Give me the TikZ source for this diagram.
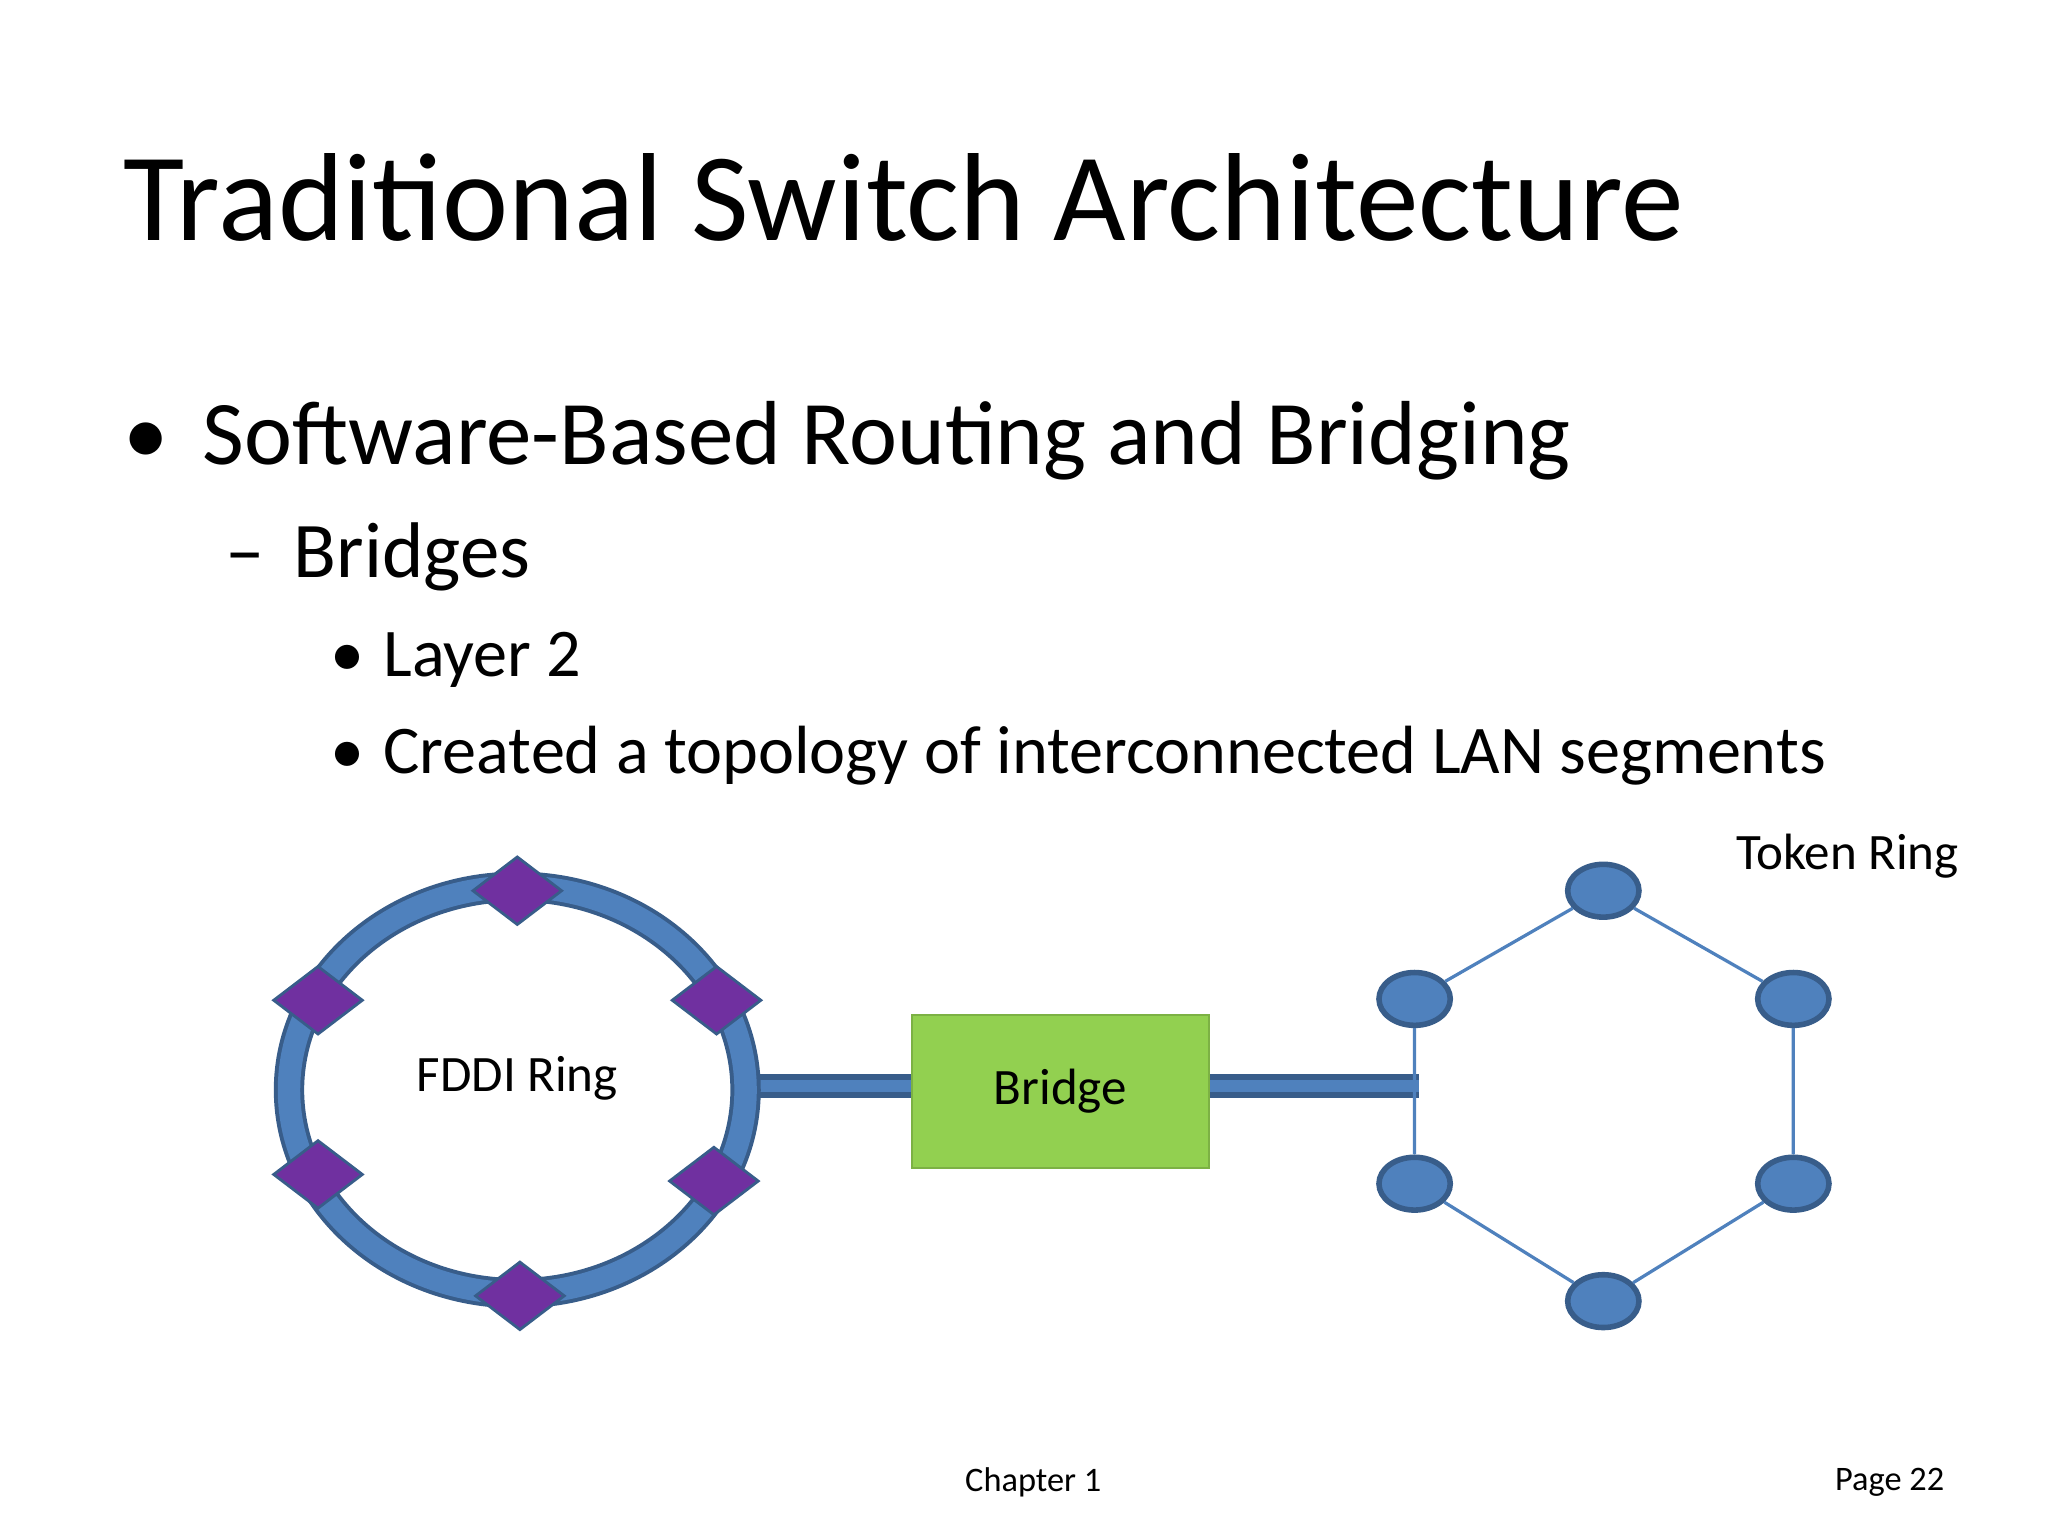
\documentclass[tikz,border=0pt]{standalone}
\usepackage{fontspec}
\setmainfont{Carlito}
\usetikzlibrary{shapes.geometric}
\definecolor{blu}{HTML}{4F81BD}
\definecolor{dblu}{HTML}{385D8A}
\definecolor{purp}{HTML}{7030A0}
\definecolor{grn}{HTML}{92D050}
\begin{document}
\begin{tikzpicture}[x=0.01cm,y=-0.01cm,
 dia/.style={diamond,fill=purp,draw=dblu,line width=0.6pt,minimum width=0.68cm,minimum height=0.52cm,inner sep=0pt},
 tok/.style={ellipse,fill=blu,draw=dblu,line width=1.2pt,minimum width=0.54cm,minimum height=0.4cm,inner sep=0pt},
 txt/.style={anchor=base west,inner sep=0pt}]
\useasboundingbox (0,0) rectangle (1552,1164);
\node[txt,font=\fontsize{27}{32}\selectfont] (title) at (93,182) {Traditional Switch Architecture};
\node[txt,font=\fontsize{19.6}{24}\selectfont] (b1m) at (93,352) {•};
\node[txt,font=\fontsize{19.6}{24}\selectfont] (b1) at (153,352) {Software-Based Routing and Bridging};
\node[txt,font=\fontsize{17}{21}\selectfont] (b2m) at (170,438) {–};
\node[txt,font=\fontsize{17}{21}\selectfont] (b2) at (222,438) {Bridges};
\node[txt,font=\fontsize{14.7}{18}\selectfont] (b3m) at (250,513) {•};
\node[txt,font=\fontsize{14.7}{18}\selectfont] (b3) at (290,513) {Layer 2};
\node[txt,font=\fontsize{14.7}{18}\selectfont] (b4m) at (250,586) {•};
\node[txt,font=\fontsize{14.7}{18}\selectfont] (b4) at (290,586) {Created a topology of interconnected LAN segments};
% connectors
\coordinate (rr) at (572,823);
\coordinate (hl) at (1075,823);
\node[fill=grn,draw=grn!85!black,minimum width=2.25cm,minimum height=1.16cm,font=\fontsize{11}{13}\selectfont] (br) at (803.5,827) {Bridge};
\draw[dblu,line width=5pt] (rr) -- (rr -| br.west);
\draw[blu,line width=2.5pt] (rr) -- (rr -| br.west);
\draw[dblu,line width=5pt] (hl -| br.east) -- (hl);
\draw[blu,line width=2.5pt] (hl -| br.east) -- (hl);
% FDDI ring
\draw[dblu,line width=0.23cm] (392,826) ellipse [x radius=173, y radius=154];
\draw[blu,line width=0.17cm] (392,826) ellipse [x radius=173, y radius=154];
\node[font=\fontsize{11}{13}\selectfont] (fl) at (392,817) {FDDI Ring};
\node[dia] (d1) at (392,675) {};
\node[dia] (d2) at (543,758) {};
\node[dia] (d3) at (241,758) {};
\node[dia] (d4) at (241,890) {};
\node[dia] (d5) at (541,895) {};
\node[dia] (d6) at (394,982) {};
% token ring
\node[tok] (t1) at (1215,675) {};
\node[tok] (t2) at (1359,757) {};
\node[tok] (t3) at (1359,897) {};
\node[tok] (t4) at (1215,986) {};
\node[tok] (t5) at (1072,897) {};
\node[tok] (t6) at (1072,757) {};
\draw[blu,line width=0.7pt] (t1)--(t2)--(t3)--(t4)--(t5)--(t6)--(t1);
\node[font=\fontsize{11}{13}\selectfont] (tl) at (1400,649) {Token Ring};
\node[font=\fontsize{7.4}{9}\selectfont] (ch) at (783,1123) {Chapter 1};
\node[font=\fontsize{7.4}{9}\selectfont] (pg) at (1432,1123) {Page 22};
\end{tikzpicture}
\end{document}
